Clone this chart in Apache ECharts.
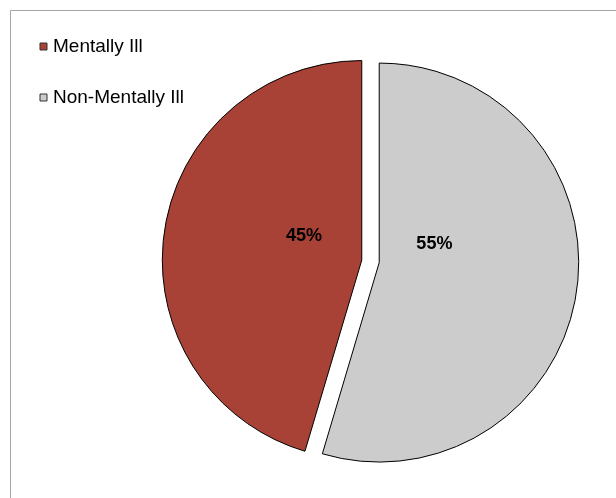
<!DOCTYPE html>
<html>
<head>
<meta charset="utf-8">
<script src="https://cdn.jsdelivr.net/npm/echarts@6/dist/echarts.min.js"></script>
<style>
html,body{margin:0;padding:0;background:#fff;}
#c{width:616px;height:498px;}
</style>
</head>
<body>
<div id="c"></div>
<script>
const categories = ['Mentally Ill', 'Non-Mentally Ill'];
const values = [45.4, 54.6];
const colors = ['#A84236', '#CCCCCC'];
const labelShift = [[44, -9], [-46.5, -33]];

const chart = echarts.init(document.getElementById('c'), null, {renderer: 'canvas'});
const font = '"Liberation Sans", Arial, sans-serif';
chart.setOption({
  animation: false,
  backgroundColor: '#fff',
  graphic: [{
    type: 'rect',
    shape: {x: 10.5, y: 10.5, width: 800, height: 800},
    style: {fill: 'none', stroke: '#A6A6A6', lineWidth: 1},
    silent: true, z: -1
  }],
  legend: {
    orient: 'vertical',
    left: 34.5, top: 32,
    icon: 'rect',
    itemWidth: 7, itemHeight: 7,
    itemGap: 32,
    selectedMode: false,
    textStyle: {fontFamily: font, fontSize: 19, color: '#000', padding: [0, 0, 0, 1]},
    itemStyle: {borderColor: '#333', borderWidth: 1},
    data: categories
  },
  series: [{
    type: 'pie',
    center: [370.5, 261.3],
    radius: 199.5,
    startAngle: 90,
    clockwise: false,
    selectedMode: 'multiple',
    selectedOffset: 8.8,
    avoidLabelOverlap: false,
    itemStyle: {borderColor: '#000', borderWidth: 1},
    emphasis: {disabled: true},
    label: {
      show: true, position: 'inside',
      formatter: p => Math.round(p.value) + '%',
      fontFamily: font, fontSize: 18, fontWeight: 'bold', color: '#000'
    },
    labelLine: {show: false},
    labelLayout: p => ({dx: labelShift[p.dataIndex][0], dy: labelShift[p.dataIndex][1]}),
    data: categories.map((c, i) => ({name: c, value: values[i], selected: true, itemStyle: {color: colors[i]}}))
  }]
});
</script>
</body>
</html>
